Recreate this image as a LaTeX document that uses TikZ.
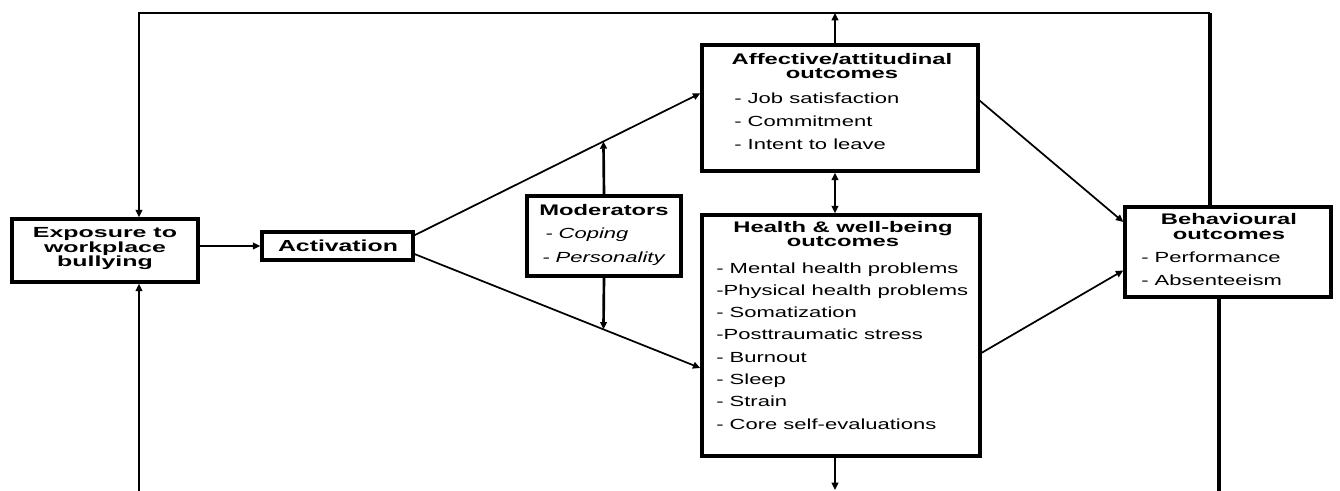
\documentclass[tikz,border=0pt]{standalone}
\usepackage{fontspec}
\setmainfont{Liberation Sans}[FakeStretch=1.55]
\newfontfamily\itemfont{Liberation Sans}[FakeStretch=1.5]
\newfontfamily\wideheadfont{Liberation Sans}[FakeStretch=1.7]
\usetikzlibrary{arrows.meta,fit}

\tikzset{
  box/.style={draw, line width=2.6pt, inner sep=0pt},
  head/.style={inner sep=0pt, font=\bfseries\fontsize{11.5}{10}\selectfont},
  widehead/.style={inner sep=0pt, font=\wideheadfont\bfseries\fontsize{11}{11}\selectfont},
  item/.style={inner sep=0pt, font=\itemfont\fontsize{11}{12}\selectfont},
  link/.style={line width=1.3pt, -{Triangle[length=5.5pt,width=5pt]}},
  backline/.style={line width=2pt},
  thickline/.style={line width=3pt},
  tip/.style={-{Triangle[length=5.5pt,width=5pt]}},
  bothtips/.style={{Triangle[length=5.5pt,width=5pt]}-{Triangle[length=5.5pt,width=5pt]}}
}

\begin{document}
\begin{tikzpicture}[x=0.75pt,y=0.75pt,yscale=-1,xscale=1]
        \useasboundingbox (0,0) rectangle (1340,491);

        %Shape: Rectangle [exposure]
        \node[box, fit={(12,219) (198,282)}] (expo) {};
        %Shape: Rectangle [activation]
        \node[box, fit={(262,232) (413,260)}] (act) {};
        %Shape: Rectangle [moderators]
        \node[box, fit={(527,196) (681,276)}] (mod) {};
        %Shape: Rectangle [affective]
        \node[box, fit={(702,45) (978,171)}] (aff) {};
        %Shape: Rectangle [health]
        \node[box, fit={(702,215) (980,456)}] (hlth) {};
        %Shape: Rectangle [behavioural]
        \node[box, fit={(1125,207) (1331,297)}] (beh) {};

        % Text Node
        \node[widehead, anchor=base] (expoT1) at (105,238) {Exposure to};
        \node[widehead, anchor=base] (expoT2) at (105,253) {workplace};
        \node[widehead, anchor=base] (expoT3) at (105,267) {bullying};
        % Text Node
        \node[head, anchor=base, font=\bfseries\fontsize{12}{12}\selectfont] (actT) at (338,252) {Activation};

        % Text Node
        \node[head, anchor=base] (modT) at (604,216) {Moderators};
        \node[item, anchor=base west] (mod1) at (545,239) {\itshape - Coping};
        \node[item, anchor=base west] (mod2) at (542,263) {\itshape - Personality};

        % Text Node
        \node[head, anchor=base] (affT1) at (842,65) {Affective/attitudinal};
        \node[head, anchor=base] (affT2) at (842,79) {outcomes};
        \node[item, anchor=base west] (aff1) at (734,104) {- Job satisfaction};
        \node[item, anchor=base west] (aff2) at (734,127) {- Commitment};
        \node[item, anchor=base west] (aff3) at (734,150) {- Intent to leave};

        % Text Node
        \node[head, anchor=base] (hlthT1) at (843,233) {Health \& well-being};
        \node[head, anchor=base] (hlthT2) at (843,247) {outcomes};
        \node[item, anchor=base west] (hlth1) at (716,274) {- Mental health problems};
        \node[item, anchor=base west] (hlth2) at (716,296) {-Physical health problems};
        \node[item, anchor=base west] (hlth3) at (716,318) {- Somatization};
        \node[item, anchor=base west] (hlth4) at (716,340) {-Posttraumatic stress};
        \node[item, anchor=base west] (hlth5) at (716,363) {- Burnout};
        \node[item, anchor=base west] (hlth6) at (716,385) {- Sleep};
        \node[item, anchor=base west] (hlth7) at (716,407) {- Strain};
        \node[item, anchor=base west] (hlth8) at (716,430) {- Core self-evaluations};

        % Text Node
        \node[head, anchor=base] (behT1) at (1229,225) {Behavioural};
        \node[head, anchor=base] (behT2) at (1229,240) {outcomes};
        \node[item, anchor=base west] (beh1) at (1141,263) {- Performance};
        \node[item, anchor=base west] (beh2) at (1141,286) {- Absenteeism};

        %Feedback lines
        \coordinate (topL) at (139,13);
        \coordinate (topR) at (1210,13);
        \coordinate (botL) at (139,493);
        \coordinate (botR) at (1219,493);
        \coordinate (affUp) at (835,45);
        \coordinate (botM) at (835,490);

        \draw[thickline] (beh.north -| topR) -- (topR);
        \draw[backline, tip] (topR) -- (topL) -- (expo.north -| topL);
        \draw[backline, tip] (aff.north -| affUp) -- (affUp |- topL);
        \draw[backline, tip] (botL) -- (expo.south -| botL);
        \draw[thickline] (beh.south -| botR) -- (botR);
        \draw[backline, tip] (hlth.south -| botM) -- (botM);

        %Arrows
        \draw[link] (expo.east |- act.west) -- (act.west);
        \draw[link] (act.8) -- coordinate[pos=0.661] (modU) (aff.174);
        \draw[link] (act.-6) -- coordinate[pos=0.661] (modD) (hlth.193);
        \draw[backline, tip] (mod.north) -- (modU);
        \draw[backline, tip] (mod.south) -- (modD);
        \draw[backline, bothtips] (aff.south -| affUp) -- (hlth.north -| affUp);
        \draw[link] (aff.3) -- (beh.164);
        \draw[link] (hlth.-7) -- (beh.190);

\end{tikzpicture}
\end{document}
